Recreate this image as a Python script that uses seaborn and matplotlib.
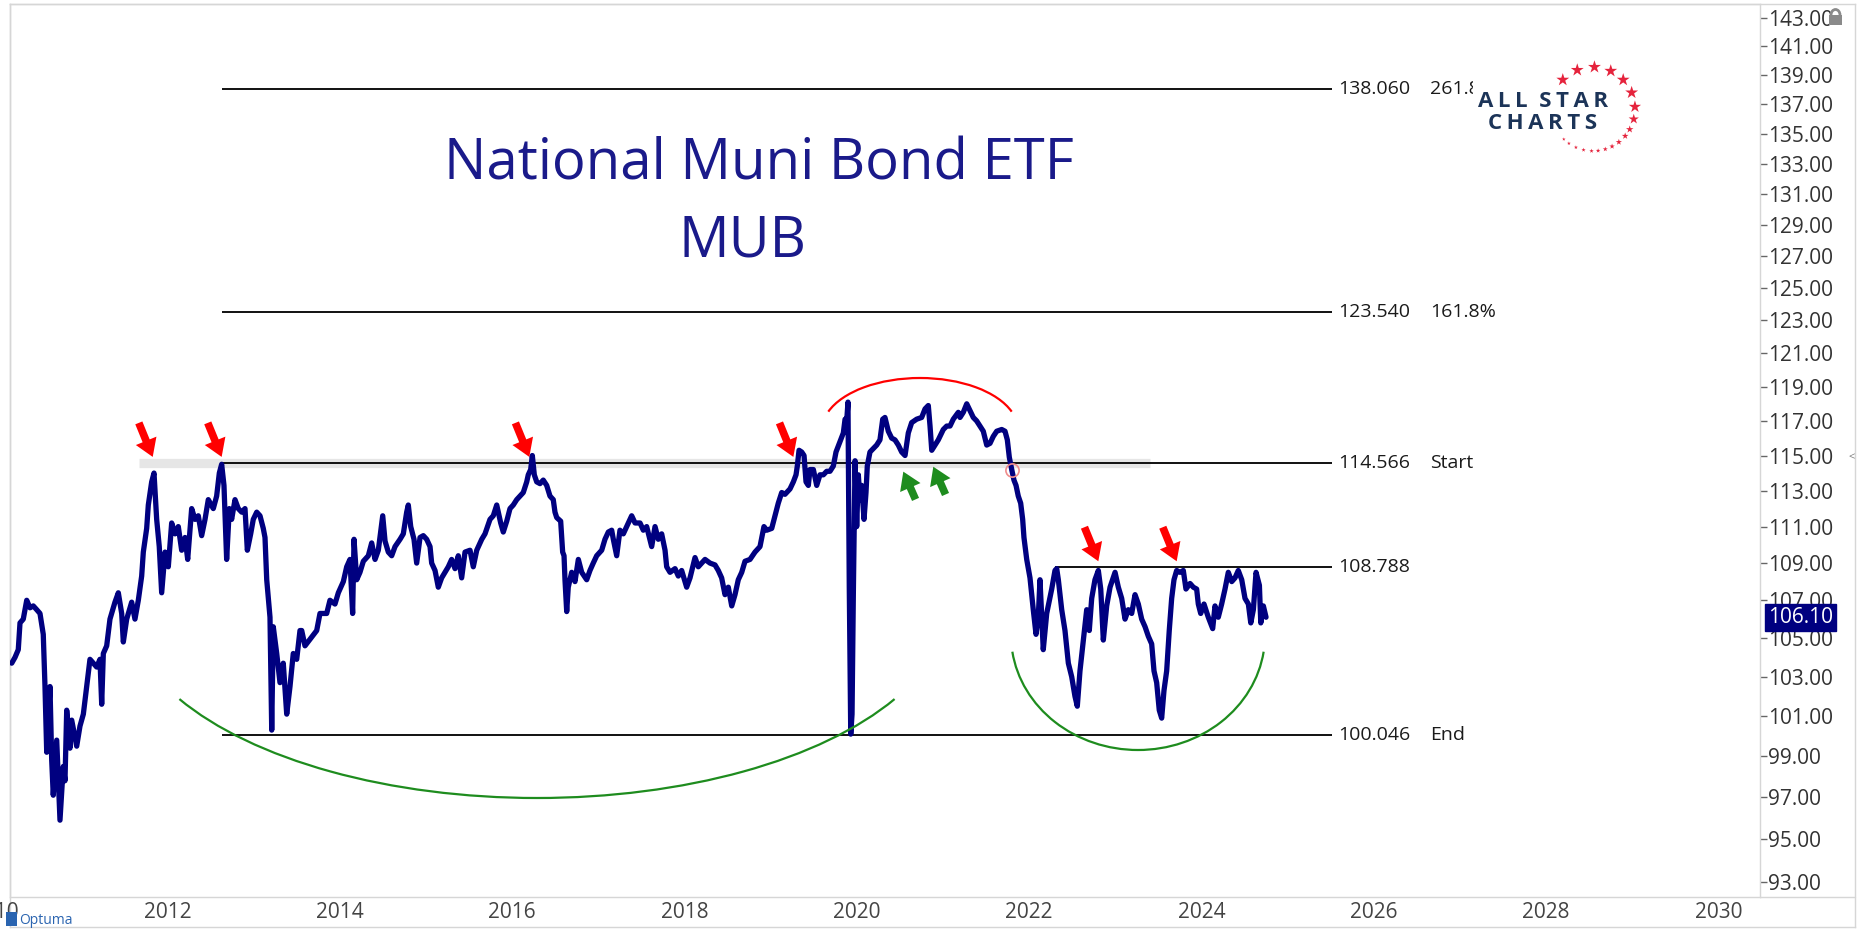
import numpy as np
import pandas as pd
import seaborn as sns
import matplotlib.pyplot as plt
from matplotlib import transforms
from matplotlib.lines import Line2D
from matplotlib.patches import Arc, FancyBboxPatch, Rectangle
from matplotlib.ticker import FixedLocator, FormatStrFormatter, NullLocator

# MUB closes (decimal year, price)
years = [
    2010.493, 2010.531, 2010.569, 2010.589, 2010.627, 2010.667, 2010.705, 2010.743,
    2010.783, 2010.821, 2010.859, 2010.879, 2010.899, 2010.937, 2010.957, 2010.975,
    2011.015, 2011.053, 2011.091, 2011.111, 2011.131, 2011.169, 2011.189, 2011.247,
    2011.285, 2011.324, 2011.363, 2011.401, 2011.479, 2011.517, 2011.537, 2011.556,
    2011.595, 2011.633, 2011.691, 2011.730, 2011.769, 2011.788, 2011.827, 2011.885,
    2011.923, 2011.962, 2012.001, 2012.020, 2012.059, 2012.078, 2012.117, 2012.144,
    2012.175, 2012.205, 2012.233, 2012.272, 2012.310, 2012.349, 2012.388, 2012.426,
    2012.465, 2012.504, 2012.535, 2012.581, 2012.620, 2012.658, 2012.697, 2012.736,
    2012.774, 2012.832, 2012.871, 2012.902, 2012.929, 2012.956, 2012.987, 2013.018,
    2013.045, 2013.084, 2013.122, 2013.162, 2013.200, 2013.227, 2013.266, 2013.296,
    2013.336, 2013.374, 2013.412, 2013.432, 2013.452, 2013.490, 2013.510, 2013.528,
    2013.568, 2013.606, 2013.644, 2013.684, 2013.722, 2013.760, 2013.800, 2013.838,
    2013.858, 2013.896, 2014.032, 2014.070, 2014.148, 2014.186, 2014.244, 2014.283,
    2014.341, 2014.380, 2014.418, 2014.449, 2014.465, 2014.496, 2014.534, 2014.573,
    2014.631, 2014.670, 2014.709, 2014.747, 2014.798, 2014.825, 2014.863, 2014.902,
    2014.941, 2014.999, 2015.037, 2015.076, 2015.095, 2015.123, 2015.161, 2015.192,
    2015.231, 2015.269, 2015.308, 2015.347, 2015.366, 2015.405, 2015.443, 2015.482,
    2015.521, 2015.559, 2015.598, 2015.637, 2015.675, 2015.714, 2015.753, 2015.811,
    2015.849, 2015.889, 2015.947, 2015.985, 2016.043, 2016.081, 2016.121, 2016.167,
    2016.197, 2016.237, 2016.275, 2016.313, 2016.353, 2016.391, 2016.429, 2016.469,
    2016.487, 2016.515, 2016.534, 2016.557, 2016.585, 2016.623, 2016.661, 2016.701,
    2016.739, 2016.777, 2016.797, 2016.817, 2016.863, 2016.886, 2016.902, 2016.913,
    2016.933, 2016.951, 2016.991, 2017.029, 2017.068, 2017.107, 2017.165, 2017.203,
    2017.241, 2017.281, 2017.339, 2017.377, 2017.416, 2017.455, 2017.474, 2017.513,
    2017.551, 2017.590, 2017.629, 2017.687, 2017.726, 2017.784, 2017.822, 2017.861,
    2017.919, 2017.958, 2017.996, 2018.035, 2018.074, 2018.093, 2018.132, 2018.190,
    2018.228, 2018.267, 2018.325, 2018.364, 2018.422, 2018.460, 2018.538, 2018.596,
    2018.654, 2018.692, 2018.731, 2018.770, 2018.808, 2018.848, 2018.886, 2018.924,
    2018.964, 2019.002, 2019.060, 2019.118, 2019.176, 2019.222, 2019.254, 2019.312,
    2019.350, 2019.388, 2019.428, 2019.466, 2019.524, 2019.563, 2019.594, 2019.609,
    2019.629, 2019.660, 2019.687, 2019.710, 2019.737, 2019.756, 2019.795, 2019.834,
    2019.872, 2019.911, 2019.950, 2019.988, 2020.027, 2020.058, 2020.105, 2020.143,
    2020.163, 2020.182, 2020.197, 2020.212, 2020.229, 2020.244, 2020.259, 2020.279,
    2020.298, 2020.317, 2020.336, 2020.356, 2020.383, 2020.406, 2020.421, 2020.452,
    2020.491, 2020.530, 2020.568, 2020.600, 2020.626, 2020.665, 2020.704, 2020.742,
    2020.781, 2020.820, 2020.859, 2020.897, 2020.936, 2020.994, 2021.052, 2021.091,
    2021.129, 2021.149, 2021.169, 2021.207, 2021.245, 2021.303, 2021.343, 2021.381,
    2021.419, 2021.477, 2021.497, 2021.535, 2021.575, 2021.613, 2021.651, 2021.690,
    2021.729, 2021.767, 2021.807, 2021.845, 2021.883, 2021.923, 2021.981, 2022.019,
    2022.046, 2022.069, 2022.097, 2022.123, 2022.147, 2022.173, 2022.201, 2022.224,
    2022.239, 2022.271, 2022.309, 2022.347, 2022.379, 2022.405, 2022.425, 2022.463,
    2022.503, 2022.521, 2022.561, 2022.599, 2022.619, 2022.638, 2022.677, 2022.715,
    2022.754, 2022.793, 2022.831, 2022.858, 2022.889, 2022.928, 2022.967, 2022.997,
    2023.025, 2023.063, 2023.102, 2023.130, 2023.160, 2023.199, 2023.238, 2023.296,
    2023.334, 2023.373, 2023.412, 2023.450, 2023.489, 2023.528, 2023.566, 2023.605,
    2023.644, 2023.682, 2023.721, 2023.748, 2023.779, 2023.809, 2023.837, 2023.864,
    2023.895, 2023.925, 2023.953, 2023.980, 2024.011, 2024.050, 2024.088, 2024.119,
    2024.166, 2024.204, 2024.243, 2024.262, 2024.290, 2024.328, 2024.378, 2024.429,
    2024.456, 2024.494, 2024.533, 2024.572, 2024.610, 2024.650, 2024.688, 2024.726,
    2024.766, 2024.804, 2024.843, 2024.871, 2024.901, 2024.932, 2024.971, 2024.987,
    2025.017, 2025.048,
]
prices = [
    103.7, 104.0, 104.4, 105.8, 106.0, 107.0, 106.6, 106.7,
    106.5, 106.3, 105.2, 102.5, 99.2, 102.5, 98.8, 97.1,
    99.8, 95.9, 98.5, 97.8, 101.3, 99.4, 100.8, 99.5,
    100.5, 101.1, 102.5, 103.9, 103.5, 103.9, 101.6, 104.2,
    104.6, 106.0, 106.9, 107.4, 106.3, 104.8, 106.0, 106.9,
    106.0, 107.0, 108.3, 109.6, 110.9, 112.2, 113.5, 114.0,
    111.4, 109.9, 107.4, 109.6, 108.8, 111.2, 110.6, 111.0,
    109.7, 110.4, 109.2, 112.0, 111.4, 111.6, 110.5, 111.4,
    112.5, 112.0, 112.7, 114.0, 114.5, 113.3, 109.2, 112.0,
    111.4, 112.5, 112.0, 111.8, 112.0, 109.7, 110.6, 111.4,
    111.8, 111.6, 110.9, 110.4, 108.1, 106.1, 100.3, 105.6,
    104.2, 102.7, 103.7, 101.1, 102.5, 104.2, 103.9, 105.4,
    105.4, 104.6, 105.4, 106.3, 106.3, 107.0, 106.8, 107.4,
    108.0, 108.8, 109.2, 106.3, 110.3, 108.1, 108.5, 109.1,
    109.4, 110.1, 109.2, 109.7, 111.6, 110.2, 109.6, 109.4,
    109.9, 110.3, 110.6, 111.8, 112.2, 111.0, 110.3, 109.0,
    110.4, 110.5, 110.3, 109.9, 109.0, 108.6, 107.7, 108.2,
    108.5, 108.8, 109.2, 108.7, 109.4, 108.2, 109.6, 109.7,
    108.8, 109.7, 110.3, 110.6, 111.4, 111.6, 112.2, 111.2,
    110.7, 111.3, 112.0, 112.2, 112.5, 112.7, 112.9, 113.5,
    113.9, 114.2, 115.0, 113.9, 113.5, 113.4, 113.6, 113.3,
    112.7, 112.5, 111.8, 111.5, 111.3, 109.6, 109.4, 108.1,
    106.4, 107.7, 108.5, 108.0, 109.2, 108.5, 108.1, 108.6,
    109.0, 109.4, 109.7, 110.3, 110.7, 110.8, 110.3, 109.4,
    110.8, 110.6, 111.0, 111.6, 111.2, 111.2, 110.8, 111.0,
    109.9, 111.0, 110.3, 110.6, 109.7, 108.8, 108.5, 108.7,
    108.3, 108.6, 107.7, 108.2, 109.3, 108.8, 109.2, 109.0,
    108.9, 108.6, 108.2, 107.3, 107.7, 106.7, 107.3, 108.1,
    108.5, 109.1, 109.2, 109.6, 109.9, 111.0, 110.8, 110.9,
    111.6, 112.3, 112.9, 112.8, 113.1, 113.5, 113.9, 114.4,
    115.3, 115.2, 115.0, 113.5, 113.3, 114.2, 114.2, 113.3,
    113.9, 113.9, 114.1, 114.1, 114.4, 115.2, 115.8, 116.3,
    117.1, 117.0, 118.1, 107.7, 100.1, 101.1, 107.3, 114.7,
    111.0, 113.9, 112.5, 113.3, 111.4, 112.9, 114.4, 115.2,
    115.4, 115.6, 115.9, 117.1, 117.2, 116.4, 116.0, 115.9,
    115.6, 115.2, 115.0, 116.3, 116.9, 117.1, 117.2, 117.7,
    117.9, 116.7, 115.3, 115.6, 115.9, 116.5, 116.7, 116.7,
    117.1, 117.5, 117.2, 117.5, 118.0, 117.6, 117.2, 117.0,
    116.7, 116.4, 115.6, 115.7, 116.1, 116.4, 116.5, 116.4,
    115.9, 114.9, 114.2, 113.6, 113.3, 112.7, 112.3, 111.4,
    110.4, 109.2, 108.2, 106.5, 105.2, 106.1, 108.1, 104.4,
    106.3, 106.7, 107.6, 108.6, 108.7, 108.1, 106.5, 105.4,
    103.7, 103.0, 102.0, 101.5, 103.3, 104.9, 106.5, 105.4,
    107.1, 108.1, 108.6, 107.6, 104.9, 106.7, 107.7, 108.5,
    107.7, 107.1, 106.0, 106.5, 106.3, 107.3, 106.8, 106.0,
    105.6, 105.1, 104.7, 103.3, 102.7, 101.3, 100.9, 102.3,
    103.3, 105.4, 107.1, 108.1, 108.6, 108.5, 108.6, 107.6,
    107.9, 107.7, 107.6, 106.8, 106.3, 106.8, 106.1, 105.5,
    106.7, 106.1, 106.8, 107.6, 108.5, 108.0, 108.2, 108.6,
    108.1, 107.1, 106.8, 105.8, 106.5, 108.5, 107.8, 105.8,
    106.7, 106.1,
]

fib_levels = [138.060, 123.540, 114.566, 108.788, 100.046]
fib_tags = ['261.8%', '161.8%', 'Start', '', 'End']
fib_starts = [2012.93, 2012.93, 2012.93, 2022.60, 2012.93]
fib_end = 2025.81
band_level = 114.566
band_from, band_to = 2011.97, 2023.70

top_arrow_x = [2012.129, 2012.929, 2016.499, 2019.563, 2023.102, 2024.011]
top_arrow_y = [114.92, 114.92, 114.92, 114.92, 109.1, 109.1]
up_arrow_x = [2020.839, 2021.187]
up_arrow_y = [114.08, 114.36]
break_x, break_y = 2022.097, 114.2
last_price = 106.10

year_ticks = list(range(2010, 2031, 2))
price_ticks = list(range(93, 144, 2))

W, H = 1865, 935
NAVY = '#000080'
GRID = '#d6d6d6'

sns.set_theme(style='white')
plt.rcParams['font.family'] = ['Open Sans', 'DejaVu Sans']

fig = plt.figure(figsize=(W / 100, H / 100), dpi=100)


def box(x0, y0, x1, y1):
    # pixel box -> figure fraction rect
    return [x0 / W, 1 - y1 / H, (x1 - x0) / W, (y1 - y0) / H]


frame = fig.add_axes(box(10, 4, 1855, 927))
frame.set_xticks([])
frame.set_yticks([])
for sp in frame.spines.values():
    sp.set_color(GRID)
    sp.set_linewidth(1)

ax = fig.add_axes(box(10, 4, 1760, 897))
ax.patch.set_alpha(0)

df = pd.DataFrame({'year': years, 'close': prices})
sns.lineplot(data=df, x='year', y='close', ax=ax, color=NAVY, lw=3.8,
             sort=False, estimator=None, zorder=3)

ax.set_yscale('log')
ax.set_xticks(year_ticks)
ax.set_xlim(2010.473, 2030.78)
ax.set_ylim(92.3, 144.0)
ax.set(xlabel='', ylabel='')

ax.yaxis.tick_right()
ax.yaxis.set_major_locator(FixedLocator(price_ticks))
ax.yaxis.set_minor_locator(NullLocator())
ax.yaxis.set_major_formatter(FormatStrFormatter('%.2f'))
ax.tick_params(axis='y', which='major', direction='out', length=5, width=1,
               color='#666666', pad=0.5, labelsize=15, labelcolor='#333333')
ax.tick_params(axis='x', direction='out', length=21.6, width=1, color=GRID,
               labelbottom=False)
for sp in ax.spines.values():
    sp.set_color(GRID)
    sp.set_linewidth(1)

# year labels sit just right of each separator
lab_tr = (transforms.blended_transform_factory(ax.transData, ax.transAxes)
          + transforms.ScaledTranslation(0.02, -0.15, fig.dpi_scale_trans))
for yr in year_ticks:
    ax.text(yr, 0, str(yr), transform=lab_tr, ha='left', va='center',
            fontsize=15, color='#444444', clip_on=False)

# fibonacci levels
ax.hlines(band_level, band_from, band_to, color='#e6e6e6', lw=6.7, zorder=1)
for lvl, start, tag in zip(fib_levels, fib_starts, fib_tags):
    ax.hlines(lvl, start, fib_end, color='#111111', lw=1.4, zorder=2)
    ax.annotate(f'{lvl:.3f}', xy=(fib_end, lvl), xytext=(4.5, 0),
                textcoords='offset points', ha='left', va='center',
                fontsize=14, color='#1a1a1a')
    if tag:
        ax.annotate(tag, xy=(fib_end, lvl), xytext=(71, 0),
                    textcoords='offset points', ha='left', va='center',
                    fontsize=14, color='#1a1a1a')

# arrows
arrow_style = 'simple,head_length=1.25,head_width=1.6,tail_width=0.55'
for x, y in zip(top_arrow_x, top_arrow_y):
    ax.annotate('', xy=(x, y), xytext=(-10, 24.5), textcoords='offset points',
                arrowprops=dict(arrowstyle=arrow_style, fc='#ff0000', ec='none',
                                shrinkA=0, shrinkB=0, mutation_scale=10),
                zorder=5)
for x, y in zip(up_arrow_x, up_arrow_y):
    ax.annotate('', xy=(x, y), xytext=(8.8, -20), textcoords='offset points',
                arrowprops=dict(arrowstyle=arrow_style, fc='#1e8c1e', ec='none',
                                shrinkA=0, shrinkB=0, mutation_scale=10),
                zorder=5)

# hand-drawn arcs
arc_kw = dict(transform=ax.transAxes, lw=1.6, zorder=4)
ax.add_patch(Arc((0.30114, 0.33259), 0.472, 0.44345, theta1=208.5, theta2=331.5,
                 color='#1e8c1e', **arc_kw))
ax.add_patch(Arc((0.64457, 0.29339), 0.14514, 0.25756, theta1=194.6, theta2=345.4,
                 color='#1e8c1e', **arc_kw))
ax.add_patch(Arc((0.52, 0.52296), 0.112, 0.11646, theta1=21.4, theta2=158.6,
                 color='#ff0000', **arc_kw))

ax.plot([break_x], [break_y], marker='o', ms=9.5, mfc='none', mec='#f08c8c',
        mew=1.2, zorder=5)

# last price badge
badge_tr = transforms.blended_transform_factory(ax.transAxes, ax.transData)
ax.annotate(f'{last_price:.2f}', xy=(1, last_price), xycoords=badge_tr,
            xytext=(5.8, 0), textcoords='offset points', ha='left', va='center',
            fontsize=15, color='white', annotation_clip=False, zorder=10,
            bbox=dict(boxstyle='square,pad=0.15', fc=NAVY, ec=NAVY))

fig.add_artist(Line2D([1760 / W, 1855 / W], [1 - 897 / H] * 2, color=GRID, lw=1))

# title
fig.text(759 / W, 1 - 179 / H, 'National Muni Bond ETF', ha='center',
         va='baseline', fontsize=40.5, color='#1a1a8a')
fig.text(742.6 / W, 1 - 256.7 / H, 'MUB', ha='center', va='baseline',
         fontsize=40.5, color='#1a1a8a')

# logo
logo = fig.add_axes(box(1473, 58, 1648, 158), zorder=5)
logo.set_xlim(1473, 1648)
logo.set_ylim(158, 58)
logo.set_xticks([])
logo.set_yticks([])
for sp in logo.spines.values():
    sp.set_visible(False)
logo.set_facecolor('white')
thin = '\u2009'
logo.text(1543, 101.5, thin.join('ALL') + '  ' + thin.join('STAR'), ha='center',
          va='center', fontsize=16, fontweight='bold', color='#1c3458')
logo.text(1543, 123.3, thin.join('CHARTS'), ha='center', va='center', fontsize=16,
          fontweight='bold', color='#1c3458')
star_ang = np.deg2rad([136, 112, 88, 65, 44, 23, 3, -14, -29, -40, -52, -63,
                       -73, -83, -92, -103, -114, -125, -134])
star_size = [95, 95, 95, 95, 95, 95, 85, 60, 32, 26, 22, 17, 14, 12, 11, 10, 9, 8, 7]
logo.scatter(1593 + 42 * np.cos(star_ang), 109 - 42 * np.sin(star_ang),
             s=star_size, marker='*', color='#e5233c', linewidths=0)

# lock in the corner
fig.add_artist(Rectangle((1829 / W, 1 - 25 / H), 13 / W, 10 / H, fc='#8a8a8a',
                         ec='none', transform=fig.transFigure))
fig.add_artist(Arc((1835.5 / W, 1 - 15 / H), 9 / W, 11 / H, theta1=0, theta2=180,
                   color='#8a8a8a', lw=2, transform=fig.transFigure))

# Optuma mark
fig.add_artist(FancyBboxPatch((6 / W, 1 - 926 / H), 11 / W, 14 / H,
                              boxstyle='round,pad=0', fc='#2a64b0', ec='none',
                              transform=fig.transFigure))
fig.text(19 / W, 1 - 921 / H, 'Optuma', fontsize=10, color='#2a64b0',
         ha='left', va='center')
fig.text(1852 / W, 1 - 458 / H, '<', fontsize=8, color='#777777',
         ha='center', va='center')

fig.savefig('out.png', dpi=100)
